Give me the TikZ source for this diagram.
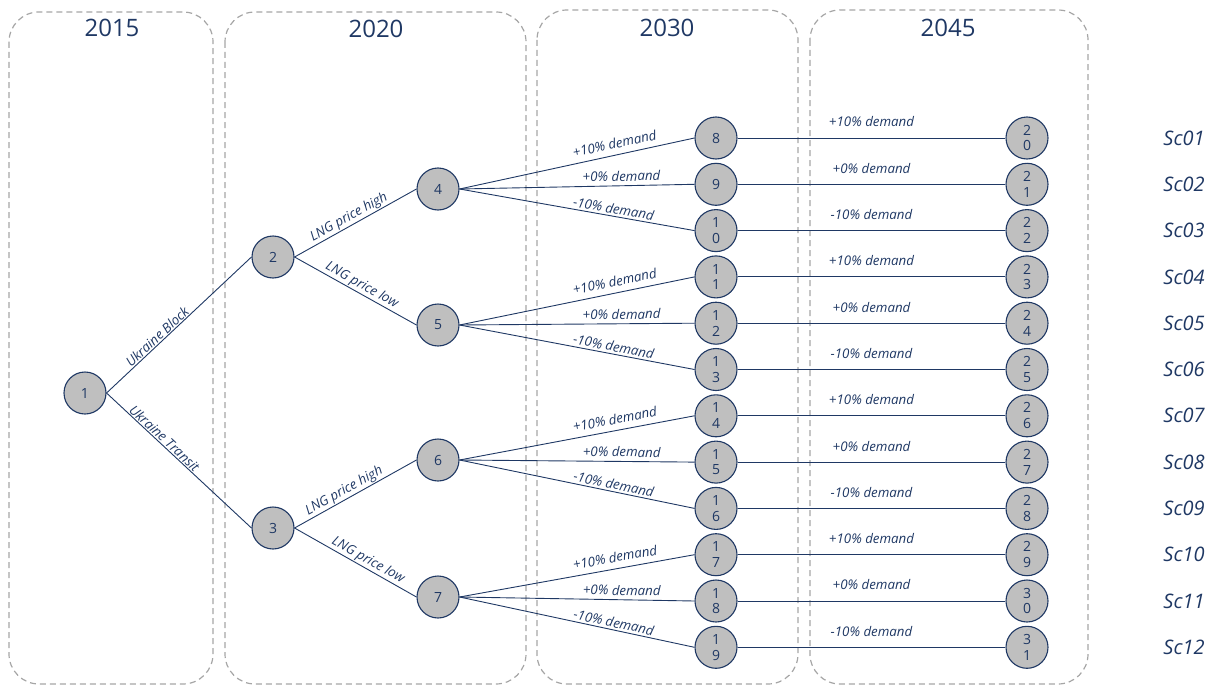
\documentclass[tikz,border=0pt]{standalone}
\usepackage{fontspec}
\setmainfont{Open Sans}
\definecolor{navy}{HTML}{1F3864}
\definecolor{nodegray}{HTML}{BFBFBF}
\definecolor{boxgray}{HTML}{A6A6A6}
\tikzset{
  stagebox/.style={draw=boxgray, line width=1.2pt, dash pattern=on 6pt off 4pt, rounded corners=30pt},
  title/.style={font=\fontsize{24}{28}\selectfont, text=navy},
  tnode/.style={circle, draw=navy, fill=nodegray, line width=1.1pt, minimum size=42pt, inner sep=0pt,
    font=\fontsize{14}{15.7}\selectfont, text=navy, align=center},
  conn/.style={draw=navy, line width=0.9pt},
  lab/.style={font=\fontsize{13.3}{15}\selectfont\itshape, text=navy, sloped, above, inner sep=1pt},
  labhi/.style={lab, above=5pt},
  labmid/.style={lab, above=3pt},
  lablo/.style={lab, above=1pt},
  hlab/.style={font=\fontsize{13.3}{15}\selectfont\itshape, text=navy, midway, yshift=16pt, inner sep=0pt},
  sclab/.style={font=\fontsize{20}{24}\selectfont\itshape, text=navy}
}
\begin{document}
\begin{tikzpicture}[x=1pt,y=-1pt]
\useasboundingbox (0,0) rectangle (1220,685);
% stage boxes
\draw[stagebox] (9,12) rectangle (213,684);
\draw[stagebox] (225,12) rectangle (526,684);
\draw[stagebox] (537,10) rectangle (798,684);
\draw[stagebox] (810,10) rectangle (1088,684);
\node[title] (t1) at (112,28) {2015};
\node[title] (t2) at (376,29) {2020};
\node[title] (t3) at (667,28) {2030};
\node[title] (t4) at (948,28) {2045};
% tree nodes
\node[tnode] (n1) at (85,393) {1};
\node[tnode] (n2) at (273,257) {2};
\node[tnode] (n3) at (273,528) {3};
\node[tnode] (n4) at (438,189) {4};
\node[tnode] (n5) at (438,325) {5};
\node[tnode] (n6) at (438,460) {6};
\node[tnode] (n7) at (438,597) {7};
\node[tnode] (n8)  at (716,138.0) {8};
\node[tnode] (n9)  at (716,184.3) {9};
\node[tnode] (n10) at (716,230.6) {1\\0};
\node[tnode] (n11) at (716,276.9) {1\\1};
\node[tnode] (n12) at (716,323.2) {1\\2};
\node[tnode] (n13) at (716,369.5) {1\\3};
\node[tnode] (n14) at (716,415.8) {1\\4};
\node[tnode] (n15) at (716,462.1) {1\\5};
\node[tnode] (n16) at (716,508.4) {1\\6};
\node[tnode] (n17) at (716,554.7) {1\\7};
\node[tnode] (n18) at (716,601.0) {1\\8};
\node[tnode] (n19) at (716,647.3) {1\\9};
\node[tnode] (n20) at (1027,138.0) {2\\0};
\node[tnode] (n21) at (1027,184.3) {2\\1};
\node[tnode] (n22) at (1027,230.6) {2\\2};
\node[tnode] (n23) at (1027,276.9) {2\\3};
\node[tnode] (n24) at (1027,323.2) {2\\4};
\node[tnode] (n25) at (1027,369.5) {2\\5};
\node[tnode] (n26) at (1027,415.8) {2\\6};
\node[tnode] (n27) at (1027,462.1) {2\\7};
\node[tnode] (n28) at (1027,508.4) {2\\8};
\node[tnode] (n29) at (1027,554.7) {2\\9};
\node[tnode] (n30) at (1027,601.0) {3\\0};
\node[tnode] (n31) at (1027,647.3) {3\\1};
% first stage
\draw[conn] (n1.east) -- node[lab,pos=0.38] {Ukraine Block} (n2.west);
\draw[conn] (n1.east) -- node[lab,pos=0.37] {Ukraine Transit} (n3.west);
% second stage
\draw[conn] (n2.east) -- node[lab,pos=0.48] {LNG price high} (n4.west);
\draw[conn] (n2.east) -- node[lab,pos=0.52] {LNG price low} (n5.west);
\draw[conn] (n3.east) -- node[lab,pos=0.44] {LNG price high} (n6.west);
\draw[conn] (n3.east) -- node[lab,pos=0.57] {LNG price low} (n7.west);
% third stage
\draw[conn] (n4.east) -- node[labhi,pos=0.67] {+10\% demand} (n8.west);
\draw[conn] (n4.east) -- node[labmid,pos=0.69] {+0\% demand} (n9.west);
\draw[conn] (n4.east) -- node[lablo,pos=0.65] {-10\% demand} (n10.west);
\draw[conn] (n5.east) -- node[labhi,pos=0.67] {+10\% demand} (n11.west);
\draw[conn] (n5.east) -- node[labmid,pos=0.69] {+0\% demand} (n12.west);
\draw[conn] (n5.east) -- node[lablo,pos=0.65] {-10\% demand} (n13.west);
\draw[conn] (n6.east) -- node[labhi,pos=0.67] {+10\% demand} (n14.west);
\draw[conn] (n6.east) -- node[labmid,pos=0.69] {+0\% demand} (n15.west);
\draw[conn] (n6.east) -- node[lablo,pos=0.65] {-10\% demand} (n16.west);
\draw[conn] (n7.east) -- node[labhi,pos=0.67] {+10\% demand} (n17.west);
\draw[conn] (n7.east) -- node[labmid,pos=0.69] {+0\% demand} (n18.west);
\draw[conn] (n7.east) -- node[lablo,pos=0.65] {-10\% demand} (n19.west);
% fourth stage
\draw[conn] (n8.east)  -- node[hlab] {+10\% demand} (n20.west);
\draw[conn] (n9.east)  -- node[hlab] {+0\% demand} (n21.west);
\draw[conn] (n10.east) -- node[hlab] {-10\% demand} (n22.west);
\draw[conn] (n11.east) -- node[hlab] {+10\% demand} (n23.west);
\draw[conn] (n12.east) -- node[hlab] {+0\% demand} (n24.west);
\draw[conn] (n13.east) -- node[hlab] {-10\% demand} (n25.west);
\draw[conn] (n14.east) -- node[hlab] {+10\% demand} (n26.west);
\draw[conn] (n15.east) -- node[hlab] {+0\% demand} (n27.west);
\draw[conn] (n16.east) -- node[hlab] {-10\% demand} (n28.west);
\draw[conn] (n17.east) -- node[hlab] {+10\% demand} (n29.west);
\draw[conn] (n18.east) -- node[hlab] {+0\% demand} (n30.west);
\draw[conn] (n19.east) -- node[hlab] {-10\% demand} (n31.west);
% scenario labels
\node[sclab] (s1)  at (1184,138.0) {Sc01};
\node[sclab] (s2)  at (1184,184.3) {Sc02};
\node[sclab] (s3)  at (1184,230.6) {Sc03};
\node[sclab] (s4)  at (1184,276.9) {Sc04};
\node[sclab] (s5)  at (1184,323.2) {Sc05};
\node[sclab] (s6)  at (1184,369.5) {Sc06};
\node[sclab] (s7)  at (1184,415.8) {Sc07};
\node[sclab] (s8)  at (1184,462.1) {Sc08};
\node[sclab] (s9)  at (1184,508.4) {Sc09};
\node[sclab] (s10) at (1184,554.7) {Sc10};
\node[sclab] (s11) at (1184,601.0) {Sc11};
\node[sclab] (s12) at (1184,647.3) {Sc12};
\end{tikzpicture}
\end{document}
